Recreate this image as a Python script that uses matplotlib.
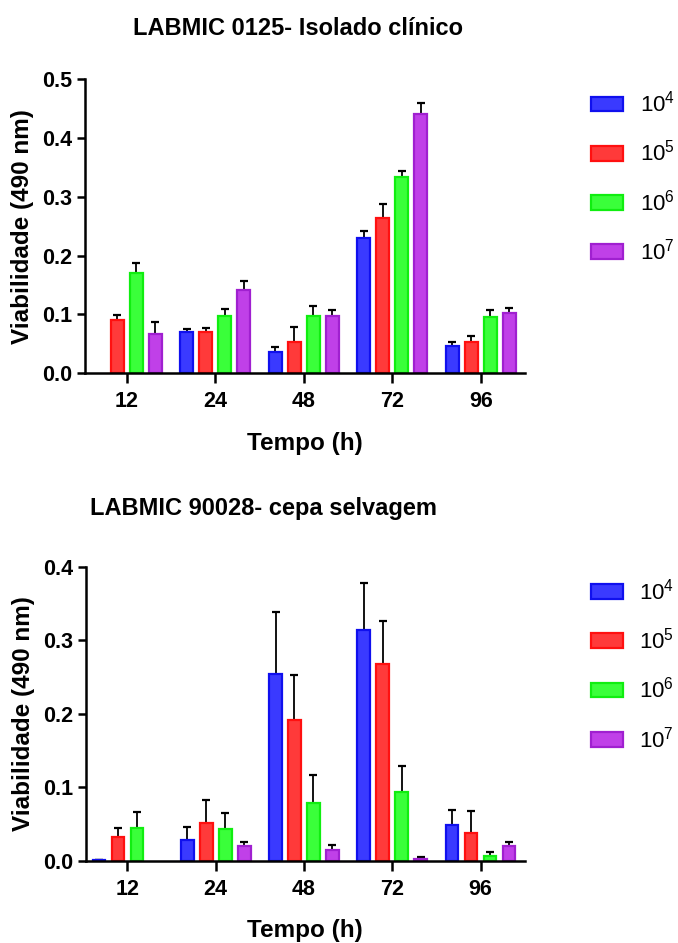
import numpy as np
import matplotlib
matplotlib.use('Agg')
import matplotlib.pyplot as plt
from matplotlib.patches import Patch

plt.rcParams['font.family'] = ['Liberation Sans', 'DejaVu Sans']
plt.rcParams['mathtext.fontset'] = 'custom'
plt.rcParams['mathtext.rm'] = 'Liberation Sans'

times = ['12', '24', '48', '72', '96']
doses = ['$\\mathrm{10^4}$', '$\\mathrm{10^5}$', '$\\mathrm{10^6}$', '$\\mathrm{10^7}$']

# LABMIC 0125 - clinical isolate (mean, SD)
clin_mean = {
    '1e4': [np.nan, 0.070, 0.036, 0.230, 0.046],
    '1e5': [0.091, 0.071, 0.054, 0.264, 0.053],
    '1e6': [0.170, 0.098, 0.097, 0.333, 0.096],
    '1e7': [0.066, 0.141, 0.097, 0.440, 0.102],
}
clin_sd = {
    '1e4': [np.nan, 0.006, 0.008, 0.012, 0.008],
    '1e5': [0.008, 0.006, 0.025, 0.024, 0.010],
    '1e6': [0.017, 0.012, 0.017, 0.010, 0.012],
    '1e7': [0.021, 0.016, 0.011, 0.020, 0.009],
}

# LABMIC 90028 - wild type (mean, SD)
wild_mean = {
    '1e4': [0.001, 0.028, 0.254, 0.314, 0.049],
    '1e5': [0.032, 0.051, 0.192, 0.268, 0.037],
    '1e6': [0.044, 0.043, 0.079, 0.093, 0.006],
    '1e7': [np.nan, 0.020, 0.014, 0.002, 0.020],
}
wild_sd = {
    '1e4': [0.0, 0.018, 0.084, 0.064, 0.020],
    '1e5': [0.012, 0.032, 0.061, 0.058, 0.030],
    '1e6': [0.022, 0.022, 0.038, 0.036, 0.006],
    '1e7': [np.nan, 0.005, 0.008, 0.003, 0.005],
}

keys = ['1e4', '1e5', '1e6', '1e7']
fills = ['#3a3aff', '#ff3a3a', '#3aff3a', '#c040e8']
edges = ['#1010ee', '#ff1010', '#10ee10', '#a020d0']

fig = plt.figure(figsize=(6.78, 9.43), dpi=100)


def panel(rect, means, sds, ymax, title, title_x, title_y):
    ax = fig.add_axes(rect)
    x = np.arange(len(times))
    pitch = 0.215
    width = 0.145
    handles = []
    for i, k in enumerate(keys):
        xi = x + (i - 1.5) * pitch
        m = np.array(means[k])
        s = np.array(sds[k])
        # symmetric bars behind the columns -> only the upper half shows
        ax.errorbar(xi, m, yerr=s, fmt='none', ecolor='black',
                    elinewidth=1.3, capsize=3, capthick=1.6, zorder=1)
        ax.bar(xi, m, width=width, color=fills[i], edgecolor=edges[i],
               linewidth=1.6, zorder=2)
        handles.append(Patch(facecolor=fills[i], edgecolor=edges[i],
                             linewidth=1.6))
    ax.set_xlim(-0.47, 4.5)
    ax.set_ylim(0, ymax)
    yt = np.arange(0, ymax + 0.001, 0.1)
    ax.set_yticks(yt)
    ax.set_yticklabels(['%.1f' % v for v in yt], fontsize=15.5,
                       fontweight='bold')
    ax.set_xticks(x)
    ax.set_xticklabels(times, fontsize=15.5, fontweight='bold')
    for sp in ['top', 'right']:
        ax.spines[sp].set_visible(False)
    for sp in ['left', 'bottom']:
        ax.spines[sp].set_linewidth(1.8)
    ax.tick_params(axis='y', width=1.8, length=6, pad=3)
    ax.tick_params(axis='x', width=1.8, length=7, pad=6)
    ax.set_xlabel('Tempo (h)', fontsize=17.5, fontweight='bold', labelpad=14)
    ax.set_ylabel('Viabilidade (490 nm)', fontsize=17.5, fontweight='bold',
                  labelpad=6)
    ax.legend(handles, doses, loc='upper left', bbox_to_anchor=(1.13, 0.99),
              frameon=False, fontsize=16, handlelength=1.45, handleheight=0.65,
              labelspacing=1.05, handletextpad=0.75, borderaxespad=0)
    fig.text(title_x, title_y, title, ha='center', va='center',
             fontsize=17, fontweight='bold')
    return ax


panel([0.1254, 0.6041, 0.649, 0.3121], clin_mean, clin_sd, 0.5,
      'LABMIC 0125- Isolado clínico', 0.440, 0.970)
panel([0.1268, 0.0873, 0.647, 0.3118], wild_mean, wild_sd, 0.4,
      'LABMIC 90028- cepa selvagem', 0.389, 0.461)

fig.savefig('out.png', dpi=100)
